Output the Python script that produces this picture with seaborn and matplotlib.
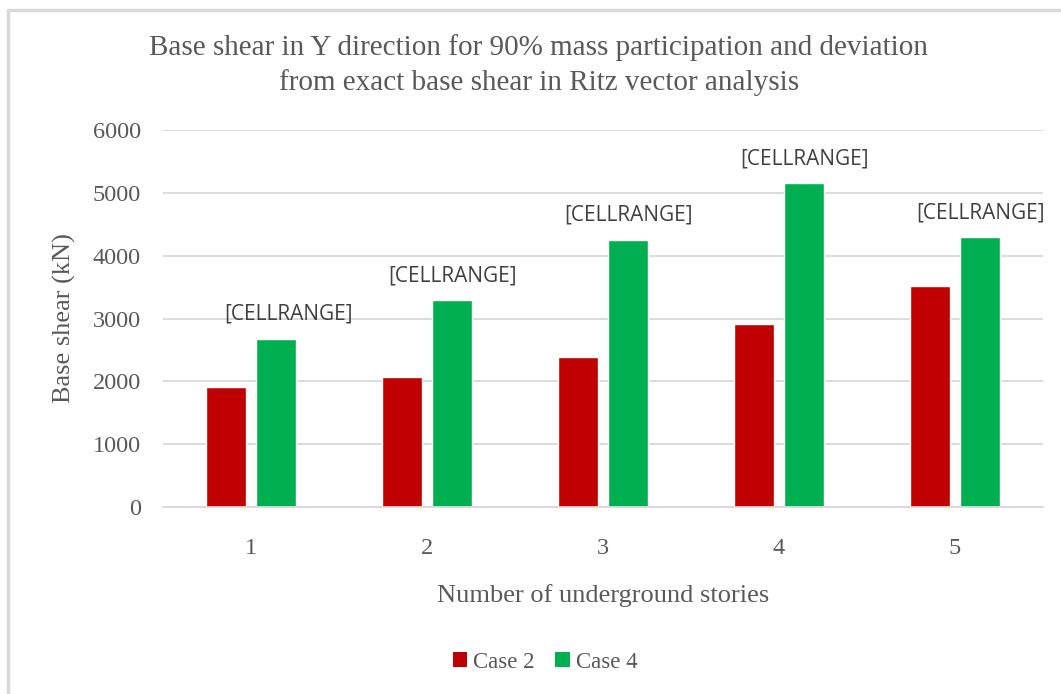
import pandas as pd
import numpy as np
import matplotlib
matplotlib.use('Agg')
import matplotlib.pyplot as plt
from matplotlib.patches import Patch
from matplotlib.lines import Line2D
import seaborn as sb

# values
stories = ['1', '2', '3', '4', '5']
case2 = [1905, 2075, 2390, 2905, 3525]
case4 = [2680, 3295, 4255, 5155, 4295]
cases = ['Case 2', 'Case 4']
label_text = '[CELLRANGE]'

df = pd.DataFrame({
    'stories': stories * 2,
    'shear': case2 + case4,
    'case': [cases[0]] * 5 + [cases[1]] * 5,
})

sb.set_style('white')
plt.rcParams['font.family'] = ['Liberation Serif', 'DejaVu Serif']

gray = '#595959'
colors = {'Case 2': '#C00000', 'Case 4': '#00B050'}

fig = plt.figure(figsize=(10.61, 6.94), dpi=100)
ax = fig.add_axes([163 / 1061, 1 - 507 / 694, 880 / 1061, 377 / 694])

sb.barplot(data=df, x='stories', y='shear', hue='case', palette=colors,
           width=0.57, gap=0.21, ax=ax, legend=False, saturation=1,
           errorbar=None)

ax.set_ylim(0, 6000)
ax.set_xlim(-0.5, 4.5)
ax.set_yticks(np.arange(0, 6001, 1000))
ax.yaxis.grid(True, color='#D9D9D9', linewidth=1.3)
ax.set_axisbelow(True)
for s in ['left', 'right', 'top']:
    ax.spines[s].set_visible(False)
ax.spines['bottom'].set_color('#D9D9D9')
ax.spines['bottom'].set_linewidth(1.3)
ax.tick_params(axis='both', length=0, labelsize=17.5, colors=gray)
ax.tick_params(axis='x', pad=22)
ax.tick_params(axis='y', pad=16)

ax.set_xlabel('Number of underground stories', fontsize=19, color=gray, labelpad=18)
ax.set_ylabel('Base shear (kN)', fontsize=19, color=gray, labelpad=12)

# data labels above Case 4 bars
green_bars = ax.containers[1]
for i, bar in enumerate(green_bars):
    dx = 0.07 if i == 0 else 0.0
    ax.annotate(label_text, (bar.get_x() + bar.get_width() / 2 + dx, bar.get_height()),
                xytext=(0, 17.5), textcoords='offset points', ha='center', va='center',
                fontsize=15, color='#404040', family=['Open Sans', 'DejaVu Sans'])

fig.text(0.508, 1 - 48 / 694, 'Base shear in Y direction for 90% mass participation and deviation',
         ha='center', va='center', fontsize=21, color=gray)
fig.text(0.508, 1 - 83 / 694, 'from exact base shear in Ritz vector analysis',
         ha='center', va='center', fontsize=21, color=gray)

handles = [Patch(facecolor=colors[c], edgecolor='none') for c in cases]
fig.legend(handles, cases, loc='center', bbox_to_anchor=(545 / 1061, 1 - 662 / 694),
           ncol=2, frameon=False, fontsize=16.5, handlelength=0.65, handleheight=0.65,
           handletextpad=0.25, columnspacing=0.9, labelcolor=gray)

# outer chart border
fig.add_artist(Line2D([8 / 1061, 1.0], [1 - 9.5 / 694] * 2, color='#D9D9D9', lw=2.5))
fig.add_artist(Line2D([8 / 1061] * 2, [0.0, 1 - 9.5 / 694], color='#D9D9D9', lw=2.5))

fig.savefig('out.png', dpi=100)
